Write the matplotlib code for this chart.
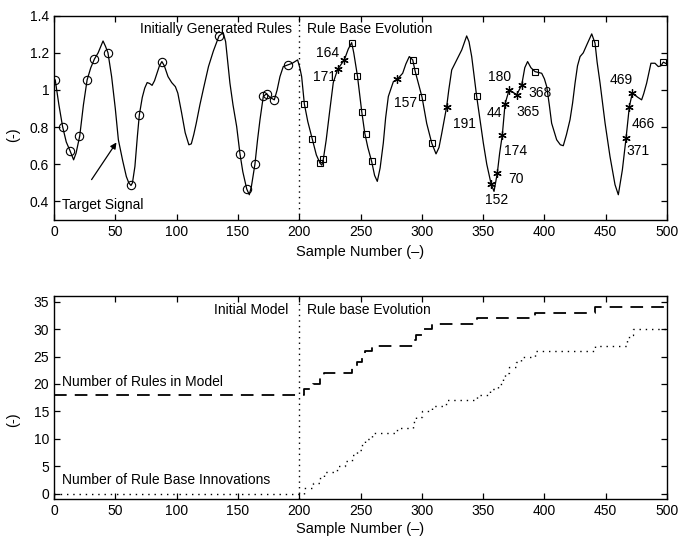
import matplotlib
matplotlib.use("Agg")
import matplotlib.pyplot as plt

plt.rcParams['font.family'] = ['Liberation Sans', 'DejaVu Sans']
plt.rcParams['font.size'] = 10

# target signal, read sample by sample
sig_x = [0, 1, 4, 7, 10, 13, 16, 18, 21, 24, 27, 30, 33, 36, 40, 42, 44, 47, 50, 52.5,
         56, 59, 61, 62.8, 64, 66, 68, 69.6, 72, 74, 76, 78, 80, 82, 84, 86, 88, 90, 93, 96,
         99, 101, 104, 107, 110, 112, 114, 116, 119, 122, 126, 130, 134.6, 138, 140, 143.5,
         146, 149, 151.7, 154, 157.2, 159.3, 161, 163.9, 166, 168, 170.7, 173.4, 176, 179.7,
         182, 184.3, 187, 190.6, 194.4, 198.7, 200.5, 202, 204.2, 207, 210.7, 214, 217, 218.5,
         219.7, 222, 225, 227.8, 231.4, 236.8, 240, 242.8, 244.5, 247.5, 251, 253.5, 256,
         259.1, 261.5, 263.7, 266, 268.6, 270.5, 272.7, 276.8, 280, 284.4, 287, 289.8, 292.6,
         294.5, 297, 300.2, 304, 308.1, 311.6, 314, 316.2, 320.3, 322, 324.4, 328.5, 332.6,
         336.6, 338.5, 340.7, 344.7, 347.5, 350.2, 353, 356.5, 358.9, 361.6, 363.5, 365.7,
         367.9, 371.2, 374, 377.4, 381.5, 384, 386.3, 389, 392.3, 397.8, 400, 401.9, 404,
         405.9, 410, 413, 415.4, 418, 420.9, 423, 425, 427, 429.1, 431.7, 434.5, 438.6, 441.3,
         443, 445.4, 449.5, 453.5, 457.6, 460.3, 463.6, 466.6, 469.3, 471.7, 476.1, 479.3,
         481, 483.4, 486.9, 490.2, 492.9, 495, 497, 500]
sig_y = [1.06, 1.054, 0.92, 0.803, 0.72, 0.674, 0.624, 0.66, 0.753, 0.92, 1.054, 1.12,
         1.167, 1.2, 1.264, 1.235, 1.201, 1.072, 0.9, 0.732, 0.62, 0.534, 0.5, 0.486, 0.5,
         0.588, 0.75, 0.866, 0.96, 1.01, 1.04, 1.035, 1.025, 1.05, 1.09, 1.13, 1.153, 1.13,
         1.072, 1.04, 1.018, 0.983, 0.88, 0.77, 0.705, 0.71, 0.76, 0.82, 0.92, 1.01, 1.126,
         1.21, 1.291, 1.309, 1.26, 1.037, 0.92, 0.803, 0.656, 0.56, 0.467, 0.436, 0.48,
         0.601, 0.73, 0.839, 0.965, 0.98, 0.961, 0.947, 1.0, 1.072, 1.126, 1.135, 1.144,
         1.162, 1.12, 1.072, 0.925, 0.83, 0.735, 0.65, 0.606, 0.595, 0.628, 0.73, 0.893,
         1.04, 1.112, 1.162, 1.22, 1.255, 1.2, 1.076, 0.884, 0.767, 0.69, 0.615, 0.54, 0.508,
         0.58, 0.714, 0.85, 0.965, 1.045, 1.058, 1.09, 1.14, 1.18, 1.162, 1.103, 1.04, 0.961,
         0.82, 0.714, 0.656, 0.69, 0.764, 0.911, 1.0, 1.108, 1.162, 1.216, 1.291, 1.26, 1.18,
         0.968, 0.84, 0.714, 0.6, 0.495, 0.454, 0.553, 0.66, 0.759, 0.925, 1.0, 0.99, 0.974,
         1.027, 1.12, 1.153, 1.12, 1.099, 1.09, 1.06, 1.018, 0.92, 0.821, 0.732, 0.705, 0.7,
         0.76, 0.84, 0.93, 1.037, 1.13, 1.18, 1.2, 1.242, 1.302, 1.252, 1.15, 1.037, 0.821,
         0.642, 0.49, 0.436, 0.57, 0.741, 0.911, 0.983, 0.961, 0.947, 0.98, 1.037, 1.144,
         1.144, 1.126, 1.13, 1.15, 1.14]

# initially generated rules (circles)
init_x = [1, 7, 13, 20.7, 26.6, 32.9, 43.8, 62.8, 69.6, 87.8, 134.6, 151.7, 157.2, 163.9,
          170.7, 173.4, 179.7, 190.6]
init_y = [1.054, 0.803, 0.674, 0.753, 1.054, 1.167, 1.201, 0.486, 0.866, 1.153, 1.291,
          0.656, 0.467, 0.601, 0.965, 0.98, 0.947, 1.135]

# rules added during evolution (squares)
add_x = [204.2, 210.7, 217, 219.7, 242.8, 247.5, 251.5, 254.5, 259.1, 292.6, 294.5, 300.2,
         308.1, 344.7, 392.3, 441.3, 497]
add_y = [0.925, 0.735, 0.606, 0.628, 1.255, 1.076, 0.88, 0.765, 0.615, 1.162, 1.103, 0.961,
         0.714, 0.968, 1.099, 1.252, 1.15]

# replaced rules (stars) and the index of the rule they replace
rep_x = [231.4, 236.8, 280, 320.3, 356.5, 361.6, 365.7, 367.9, 371.2, 377.4, 381.5, 466.6,
         469.3, 471.7]
rep_y = [1.112, 1.162, 1.058, 0.911, 0.495, 0.553, 0.759, 0.925, 1.0, 0.974, 1.027, 0.741,
         0.911, 0.983]
rep_ids = ['171', '164', '157', '191', '152', '70', '174', '44', '180', '365', '368', '371',
           '466', '469']
rep_lab_pos = [(221, 1.072), (223, 1.2), (287, 0.93), (334.4, 0.818), (361, 0.409),
               (376.6, 0.522), (376.8, 0.673), (359.3, 0.877), (363.8, 1.07), (387, 0.882),
               (396.4, 0.984), (476, 0.673), (480.8, 0.818), (462.5, 1.054)]

# rule base size and innovation count
rules_x = [0, 204, 211, 217, 220, 243, 247, 251, 254, 259, 293, 295, 300, 308, 345, 392, 441, 500]
rules_n = [18, 19, 20, 21, 22, 23, 24, 25, 26, 27, 28, 29, 30, 31, 32, 33, 34, 34]
innov_x = [0, 204, 211, 217, 220, 231, 237, 243, 247, 251, 254, 259, 280, 293, 295, 300, 308,
           320, 345, 356, 362, 366, 368, 371, 377, 381, 392, 441, 467, 469, 472, 500]
innov_n = list(range(0, 31)) + [30]

W, H = 681, 547
fig = plt.figure(figsize=(W / 100, H / 100), dpi=100)
ax1 = fig.add_axes([54 / W, 1 - 220 / H, 613 / W, 204.3 / H])
ax2 = fig.add_axes([54 / W, 1 - 499 / H, 613 / W, 203.3 / H])

for ax in (ax1, ax2):
    ax.tick_params(direction='in', top=True, right=True, length=4, width=0.9, labelsize=10)
    for s in ax.spines.values():
        s.set_linewidth(1.0)
    ax.set_xlim(0, 500)
    ax.set_xticks(range(0, 501, 50))
    ax.axvline(200, color='k', lw=1.0, linestyle=(0, (1, 3)))

# top panel
ax1.plot(sig_x, sig_y, color='k', lw=0.9)
ax1.plot(init_x, init_y, 'o', mfc='none', mec='k', ms=6, mew=0.8)
ax1.plot(add_x, add_y, 's', mfc='none', mec='k', ms=4.8, mew=0.8)
ax1.plot(rep_x, rep_y, marker=(6, 2, 0), ls='none', color='k', ms=6, mew=0.9)
for lab, (lx, ly) in zip(rep_ids, rep_lab_pos):
    ax1.text(lx, ly, lab, ha='center', va='center', fontsize=10)
ax1.set_ylim(0.3, 1.4)
ax1.set_yticks([0.4, 0.6, 0.8, 1.0, 1.2, 1.4])
ax1.set_yticklabels(['0.4', '0.6', '0.8', '1', '1.2', '1.4'])
ax1.text(194, 1.327, 'Initially Generated Rules', ha='right', va='center')
ax1.text(206.4, 1.327, 'Rule Base Evolution', ha='left', va='center')
ax1.text(6.5, 0.382, 'Target Signal', ha='left', va='center')
ax1.annotate('', xy=(52.2, 0.73), xytext=(29.4, 0.505),
             arrowprops=dict(arrowstyle='-|>', color='k', lw=0.9, mutation_scale=9))

# bottom panel
ax2.plot(rules_x, rules_n, color='k', lw=1.3, drawstyle='steps-post', linestyle=(0, (7, 4.5)))
ax2.plot(innov_x, innov_n, color='k', lw=1.0, drawstyle='steps-post', linestyle=(0, (1, 3.5)))
ax2.set_ylim(-1, 36.1)
ax2.set_yticks(range(0, 36, 5))
ax2.text(190.9, 33.5, 'Initial Model', ha='right', va='center')
ax2.text(206.4, 33.5, 'Rule base Evolution', ha='left', va='center')
ax2.text(6.5, 20.4, 'Number of Rules in Model', ha='left', va='center')
ax2.text(6.5, 2.4, 'Number of Rule Base Innovations', ha='left', va='center')

fig.text(360.5 / W, 1 - 252 / H, 'Sample Number (\u2013)', ha='center', va='center', fontsize=10.5)
fig.text(360.5 / W, 1 - 529 / H, 'Sample Number (\u2013)', ha='center', va='center', fontsize=10.5)
fig.text(13 / W, 1 - 135 / H, '(-)', ha='center', va='center', rotation=90, fontsize=10.5)
fig.text(13 / W, 1 - 420 / H, '(-)', ha='center', va='center', rotation=90, fontsize=10.5)

fig.savefig('out.png', dpi=100)
